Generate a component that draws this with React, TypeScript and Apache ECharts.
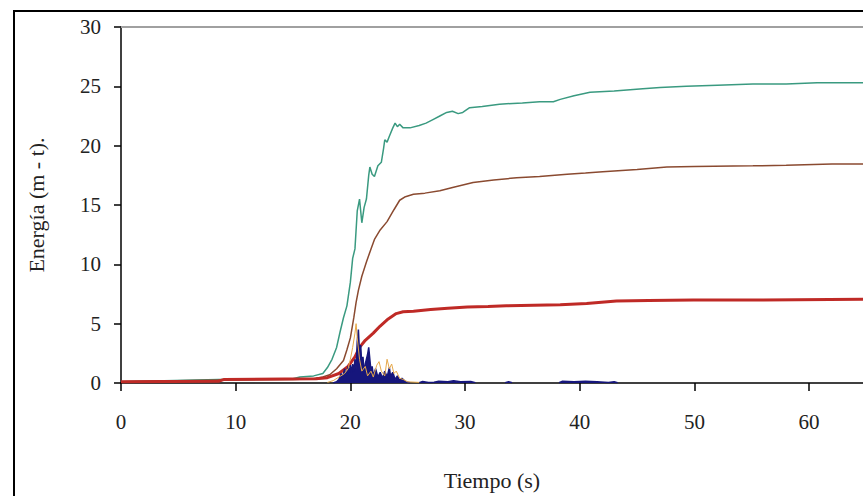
import React, { useEffect, useRef } from "react";
import * as echarts from "echarts";

const xTicks = [0, 10, 20, 30, 40, 50, 60];
const yTicks = [0, 5, 10, 15, 20, 25, 30];

const greenData: [number, number][] = [
  [0, 0.1], [8.5, 0.3], [15, 0.35], [15.6, 0.5], [16.8, 0.6], [17.6, 0.8], [18.0, 1.3], [18.4, 2.0],
  [18.8, 3.0], [19.1, 4.3], [19.4, 5.5], [19.7, 6.5], [20.0, 8.5], [20.2, 10.5], [20.4, 11.3],
  [20.6, 14.5], [20.8, 15.5], [21.0, 13.5], [21.2, 14.8], [21.4, 15.5], [21.6, 17.5], [21.7, 18.2],
  [21.9, 17.6], [22.1, 17.4], [22.4, 18.3], [22.7, 18.6], [22.9, 19.8], [23.0, 20.5], [23.2, 20.3],
  [23.4, 20.8], [23.7, 21.5], [23.9, 21.9], [24.1, 21.6], [24.3, 21.8], [24.6, 21.5], [25.2, 21.5],
  [26, 21.7], [26.6, 21.9], [27.2, 22.2], [27.8, 22.5], [28.4, 22.8], [28.9, 22.9], [29.4, 22.7],
  [29.8, 22.8], [30.4, 23.2], [31.5, 23.3], [33, 23.5], [35, 23.6], [36.5, 23.7], [37.7, 23.7],
  [38.3, 23.9], [39.5, 24.2], [40.9, 24.5], [43, 24.6], [45.5, 24.8], [47, 24.9], [49.3, 25.0],
  [52, 25.1], [55.1, 25.2], [58, 25.2], [60.7, 25.3], [64.7, 25.3],
];

const brownData: [number, number][] = [
  [0, 0.1], [8.5, 0.25], [15, 0.3], [16.8, 0.35], [17.6, 0.5], [18.2, 0.7], [18.8, 1.2], [19.4, 1.9],
  [19.7, 2.8], [20.0, 3.8], [20.3, 5.5], [20.5, 6.8], [20.7, 7.8], [21.0, 9.0], [21.4, 10.2],
  [21.8, 11.3], [22.1, 12.1], [22.6, 12.9], [23.2, 13.6], [23.8, 14.6], [24.3, 15.4], [24.8, 15.7],
  [25.5, 15.9], [26.5, 16.0], [27.8, 16.2], [29, 16.5], [30.7, 16.9], [32.5, 17.1], [34.5, 17.3],
  [36.5, 17.4], [38.9, 17.6], [40.5, 17.7], [42, 17.8], [45, 18.0], [47.6, 18.2], [50, 18.25],
  [55.1, 18.3], [58, 18.35], [62, 18.45], [64.7, 18.45],
];

const redData: [number, number][] = [
  [0, 0.1], [8.5, 0.15], [9, 0.3], [17, 0.35], [18, 0.45], [19, 0.8], [19.8, 1.4], [20.4, 2.2],
  [20.8, 3.0], [21.3, 3.6], [22, 4.2], [22.6, 4.8], [23.3, 5.4], [24, 5.85], [24.6, 6.0],
  [25.5, 6.05], [27, 6.2], [28.5, 6.3], [30.2, 6.4], [32, 6.45], [33.6, 6.5], [36, 6.55],
  [38.3, 6.6], [40.6, 6.7], [43.2, 6.9], [46, 6.95], [49.9, 7.0], [56, 7.0], [64.7, 7.05],
];

const navyData: ([number, number] | [number, null])[] = [
  [18.5, 0], [18.8, 0.1], [19.0, 0.3], [19.2, 0.8], [19.3, 0.4], [19.5, 1.2], [19.6, 0.6],
  [19.8, 1.4], [19.9, 0.8], [20.0, 1.5], [20.1, 0.9], [20.2, 1.6], [20.3, 1.0], [20.4, 2.0],
  [20.5, 1.2], [20.6, 3.5], [20.7, 4.5], [20.8, 2.5], [20.9, 3.2], [21.0, 1.5], [21.1, 2.2],
  [21.2, 0.8], [21.3, 1.6], [21.5, 2.4], [21.6, 3.0], [21.7, 2.0], [21.8, 1.0], [21.9, 1.4],
  [22.0, 0.6], [22.2, 1.2], [22.4, 0.5], [22.6, 0.9], [22.8, 0.4], [23.0, 1.0], [23.2, 0.5],
  [23.4, 1.3], [23.5, 0.6], [23.7, 0.9], [23.9, 0.3], [24.1, 0.6], [24.3, 0.2], [24.5, 0.4],
  [24.8, 0.1], [25.2, 0.03], [25.4, null],
  [26.0, 0.03], [26.3, 0.12], [26.8, 0.05], [27.3, 0.06], [27.7, 0.15], [28.5, 0.1], [29.0, 0.2],
  [29.6, 0.1], [30.5, 0.12], [30.9, 0.03], [31.2, null],
  [33.5, 0.03], [33.8, 0.1], [34.1, 0.03], [34.3, null],
  [38.2, 0.03], [38.5, 0.15], [39.5, 0.1], [40.5, 0.15], [41.5, 0.1], [42.5, 0.05], [43.0, 0.1],
  [43.3, 0.02], [43.5, null],
];

const tanData: [number, number][] = [
  [18.0, 0.05], [18.5, 0.2], [19.0, 0.5], [19.5, 0.8], [19.8, 1.2], [20.0, 2.0], [20.2, 3.0],
  [20.4, 4.2], [20.5, 5.0], [20.6, 3.8], [20.8, 2.0], [21.0, 1.0], [21.3, 1.4], [21.5, 0.6],
  [21.8, 1.0], [22.0, 0.5], [22.3, 1.5], [22.5, 1.8], [22.7, 1.0], [23.0, 0.6], [23.2, 2.0],
  [23.4, 1.2], [23.6, 1.6], [23.8, 0.8], [24.0, 1.0], [24.3, 0.4], [24.6, 0.3], [25.0, 0.1],
  [26.0, 0.05],
];

const FONT = "'Liberation Serif', 'Times New Roman', serif";

export default function App() {
  const ref = useRef<HTMLDivElement>(null);
  useEffect(() => {
    if (!ref.current) return;
    const chart = echarts.init(ref.current, undefined, { renderer: "svg" });
    const lineSeries = (name: string, data: any[], color: string, width: number, extra: any = {}) => ({
      name,
      type: "line",
      data,
      showSymbol: false,
      symbol: "none",
      connectNulls: false,
      lineStyle: { color, width },
      itemStyle: { color },
      z: 2,
      ...extra,
    });
    chart.setOption({
      animation: false,
      backgroundColor: "#ffffff",
      grid: { left: 121, top: 27, right: 0, bottom: 112, containLabel: false },
      graphic: [
        {
          type: "rect",
          shape: { x: 14, y: 11, width: 900, height: 600 },
          style: { fill: "none", stroke: "#000", lineWidth: 2 },
          silent: true,
          z: 100,
        },
      ],
      xAxis: [
        {
          type: "value",
          min: 0,
          max: 64.7,
          interval: 10,
          axisLine: { show: true, onZero: false, lineStyle: { color: "#000", width: 1.5 } },
          axisTick: { show: true, inside: false, length: 8, lineStyle: { color: "#000", width: 1.5 } },
          splitLine: { show: false },
          axisLabel: {
            color: "#222",
            fontFamily: FONT,
            fontSize: 21,
            margin: 28,
            showMaxLabel: false,
            formatter: (v: number) => (xTicks.includes(v) ? String(v) : ""),
          },
          name: "Tiempo (s)",
          nameLocation: "middle",
          nameGap: 86,
          nameTextStyle: { color: "#222", fontFamily: FONT, fontSize: 22 },
        },
        {
          type: "value",
          position: "top",
          min: 0,
          max: 64.7,
          axisLine: { show: true, onZero: false, lineStyle: { color: "#a0a0a0", width: 2 } },
          axisTick: { show: false },
          axisLabel: { show: false },
          splitLine: { show: false },
        },
      ],
      yAxis: {
        type: "value",
        min: 0,
        max: 30,
        interval: 5,
        axisLine: { show: true, lineStyle: { color: "#000", width: 1.5 } },
        axisTick: { show: true, inside: false, length: 7, lineStyle: { color: "#000", width: 1.5 } },
        splitLine: { show: false },
        axisLabel: {
          color: "#222",
          fontFamily: FONT,
          fontSize: 21,
          margin: 20,
          formatter: (v: number) => (yTicks.includes(v) ? String(v) : ""),
        },
        name: "Energía (m - t).",
        nameLocation: "middle",
        nameGap: 74,
        nameRotate: 90,
        nameTextStyle: { color: "#222", fontFamily: FONT, fontSize: 22 },
      },
      series: [
        lineSeries("Serie 1", greenData, "#3a9a80", 1.5),
        lineSeries("Serie 2", brownData, "#8a4a30", 1.5),
        lineSeries("Serie 3", redData, "#bf2a26", 3),
        lineSeries("Serie 4", navyData, "#16167c", 1.5, {
          areaStyle: { color: "#16167c", opacity: 1, origin: 0 },
          z: 3,
        }),
        lineSeries("Serie 5", tanData, "#e6a84a", 1, { z: 4 }),
      ],
    });
    return () => chart.dispose();
  }, []);
  return (
    <div
      ref={ref}
      style={{ position: "fixed", left: 0, top: 0, width: 863, height: 496, background: "#fff" }}
    />
  );
}
